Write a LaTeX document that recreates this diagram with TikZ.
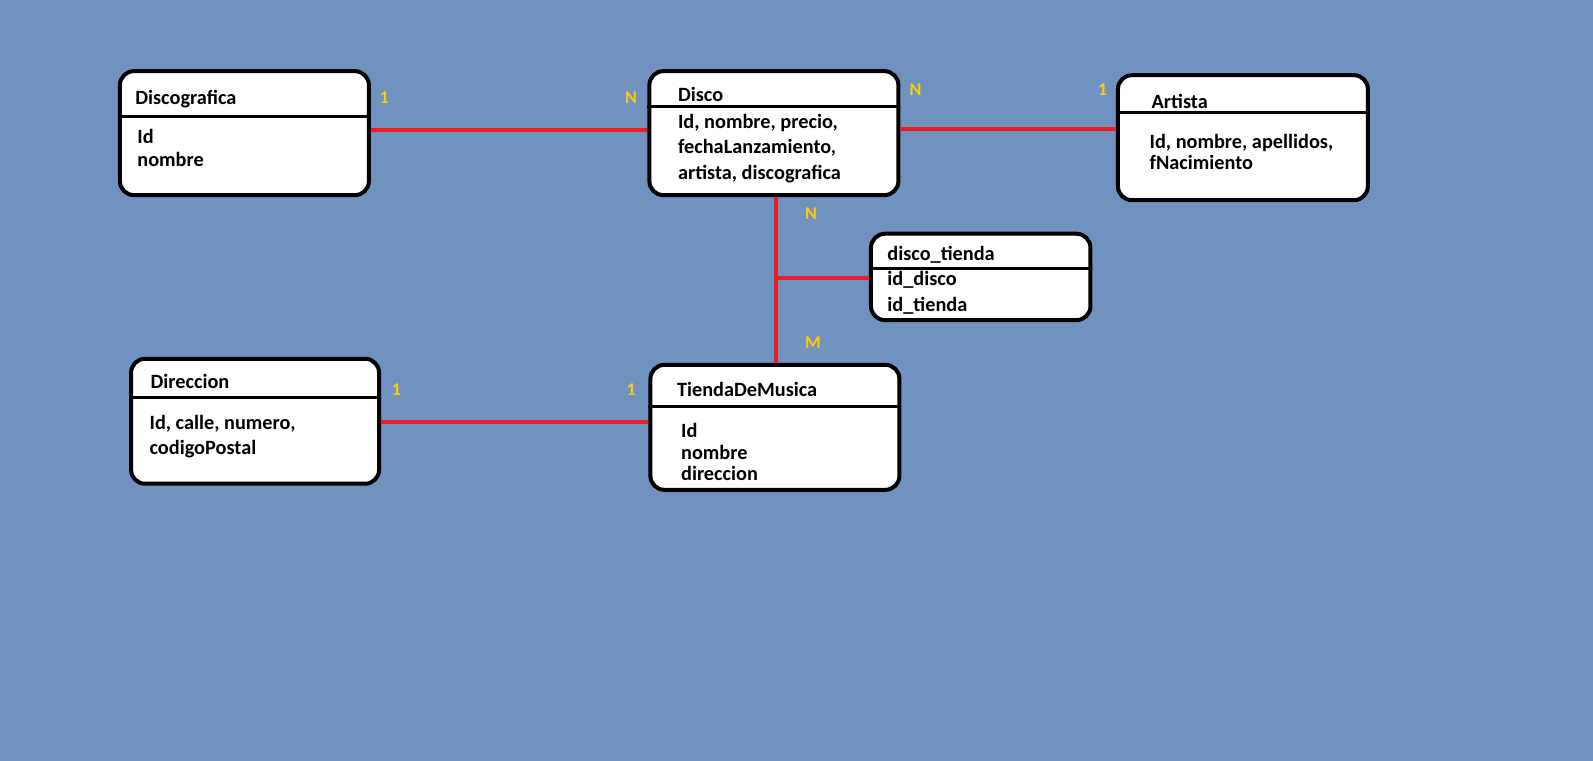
\documentclass[tikz,border=0pt]{standalone}
\usepackage{fontspec}
\setmainfont{Carlito}
\definecolor{fondo}{HTML}{7092BE}
\definecolor{rojo}{HTML}{ED1C24}
\definecolor{oro}{HTML}{FFC90E}
\begin{document}
\begin{tikzpicture}
  [x=1.0163pt,y=-1.0163pt,
   tabla/.style={draw=black,fill=white,line width=4pt,rounded corners=14pt,inner sep=0pt},
   campo/.style={anchor=base west,inner sep=0pt,font=\fontsize{20.3}{24}\selectfont\bfseries},
   card/.style={anchor=base,inner sep=0pt,text=oro,font=\fontsize{18}{21}\selectfont\bfseries},
   rel/.style={draw=rojo,line width=4pt}]
\fill[fondo] (0,0) rectangle (1567.5,748.8);
\useasboundingbox (0,0) rectangle (1567.5,748.8);

% tablas
\node (dg)[tabla,minimum width=249pt,minimum height=124pt] at (240.5,131) {};
\node (disco)[tabla,minimum width=249pt,minimum height=124pt] at (761.5,131) {};
\node (art)[tabla,minimum width=250pt,minimum height=125pt] at (1223,135.5) {};
\node (dt)[tabla,minimum width=219.5pt,minimum height=86.4pt] at (965,272.5) {};
\node (dir)[tabla,minimum width=248pt,minimum height=125pt] at (251,414.5) {};
\node (tienda)[tabla,minimum width=249pt,minimum height=125pt] at (762.5,420.5) {};

% cabeceras
\draw[line width=3pt] (dg.west |- 0,115) -- (dg.east |- 0,115);
\draw[line width=3pt] (disco.west |- 0,105) -- (disco.east |- 0,105);
\draw[line width=3pt] (art.west |- 0,111) -- (art.east |- 0,111);
\draw[line width=3pt] (dt.west |- 0,264) -- (dt.east |- 0,264);
\draw[line width=3pt] (dir.west |- 0,391) -- (dir.east |- 0,391);
\draw[line width=3pt] (tienda.west |- 0,400) -- (tienda.east |- 0,400);

% textos
\node (dgT)[campo] at (133,103) {Discografica};
\node (dg1)[campo] at (135,141) {Id};
\node (dg2)[campo] at (135,164) {nombre};

\node (discoT)[campo] at (667,100) {Disco};
\node (disco1)[campo] at (667,126) {Id, nombre, precio,};
\node (disco2)[campo] at (667,151) {fechaLanzamiento,};
\node (disco3)[campo] at (667,177) {artista, discografica};

\node (artT)[campo] at (1133,107) {Artista};
\node (art1)[campo] at (1131,146) {Id, nombre, apellidos,};
\node (art2)[campo] at (1131,167) {fNacimiento};

\node (dtT)[campo] at (873,256) {disco\_tienda};
\node (dt1)[campo] at (873,281) {id\_disco};
\node (dt2)[campo] at (873,307) {id\_tienda};

\node (dirT)[campo] at (148,382) {Direccion};
\node (dir1)[campo] at (147,423) {Id, calle, numero,};
\node (dir2)[campo] at (147,447) {codigoPostal};

\node (tiendaT)[campo] at (666,390) {TiendaDeMusica};
\node (tienda1)[campo] at (670,430) {Id};
\node (tienda2)[campo] at (670,452) {nombre};
\node (tienda3)[campo] at (670,473) {direccion};

% relaciones
\coordinate (j) at (764,274);
\draw[rel] (dg.east |- 0,128) -- (disco.west |- 0,128);
\draw[rel] (disco.east |- 0,127) -- (art.west |- 0,127);
\draw[rel] (disco.south -| j) -- (tienda.north -| j);
\draw[rel] (j) -- (dt.west |- j);
\draw[rel] (dir.east |- 0,415) -- (tienda.west |- 0,415);

% cardinalidades
\node (c1)[card] at (378,102) {1};
\node (c2)[card] at (621,102) {N};
\node (c3)[card] at (901,94) {N};
\node (c4)[card] at (1085,94) {1};
\node (c5)[card] at (798,216) {N};
\node (c6)[card] at (800,343) {M};
\node (c7)[card] at (390,389) {1};
\node (c8)[card] at (621,389) {1};
\end{tikzpicture}
\end{document}
